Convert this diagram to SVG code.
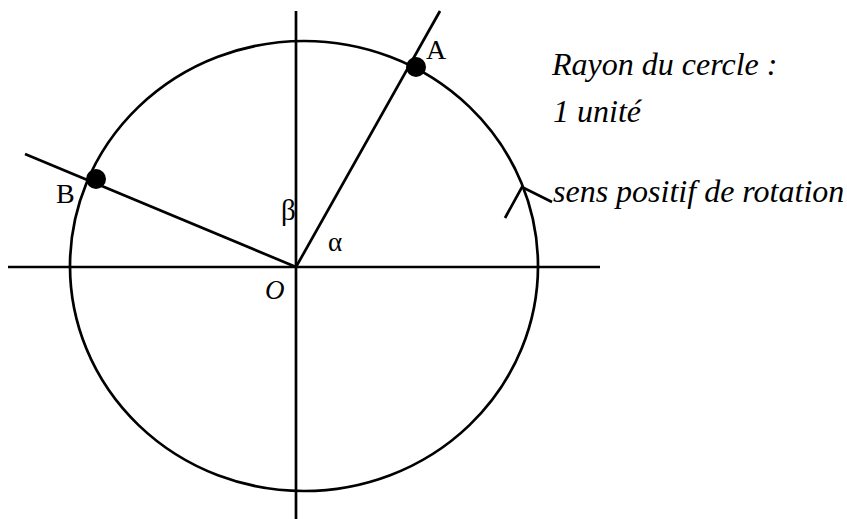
<svg xmlns="http://www.w3.org/2000/svg" width="847" height="519" viewBox="0 0 847 519">
<style>
.ln{stroke:#000;stroke-width:2.7;fill:none;stroke-linecap:butt}
.dot{fill:#000}
text{font-family:'Liberation Serif','Times New Roman',serif;fill:#000}
.it{font-style:italic}
</style>
<rect width="847" height="519" fill="#fff"/>
<g id="connectors">
<line class="ln" x1="8" y1="267" x2="600" y2="267"/>
<line class="ln" x1="296" y1="11" x2="296" y2="519"/>
<line class="ln" x1="296" y1="267" x2="440" y2="11"/>
<line class="ln" x1="296" y1="267" x2="25" y2="154"/>
<polyline class="ln" points="505,218 522,187 552,202"/>
</g>
<g id="circle">
<ellipse class="ln" cx="304" cy="266" rx="234" ry="225"/>
</g>
<g id="pointA">
<circle class="dot" cx="416" cy="67" r="10"/>
<text x="426" y="59" font-size="28">A</text>
</g>
<g id="pointB">
<circle class="dot" cx="96" cy="179" r="10"/>
<text x="56" y="203" font-size="28">B</text>
</g>
<g id="origin">
<text class="it" x="265" y="299" font-size="27">O</text>
</g>
<g id="angles">
<text x="281" y="220" font-size="29">β</text>
<text x="328" y="251" font-size="27">α</text>
</g>
<g id="notes">
<text class="it" x="552" y="75" font-size="32">Rayon du cercle :</text>
<text class="it" x="553" y="122" font-size="32">1 unité</text>
<text class="it" x="553" y="202" font-size="32">sens positif de rotation</text>
</g>
</svg>
